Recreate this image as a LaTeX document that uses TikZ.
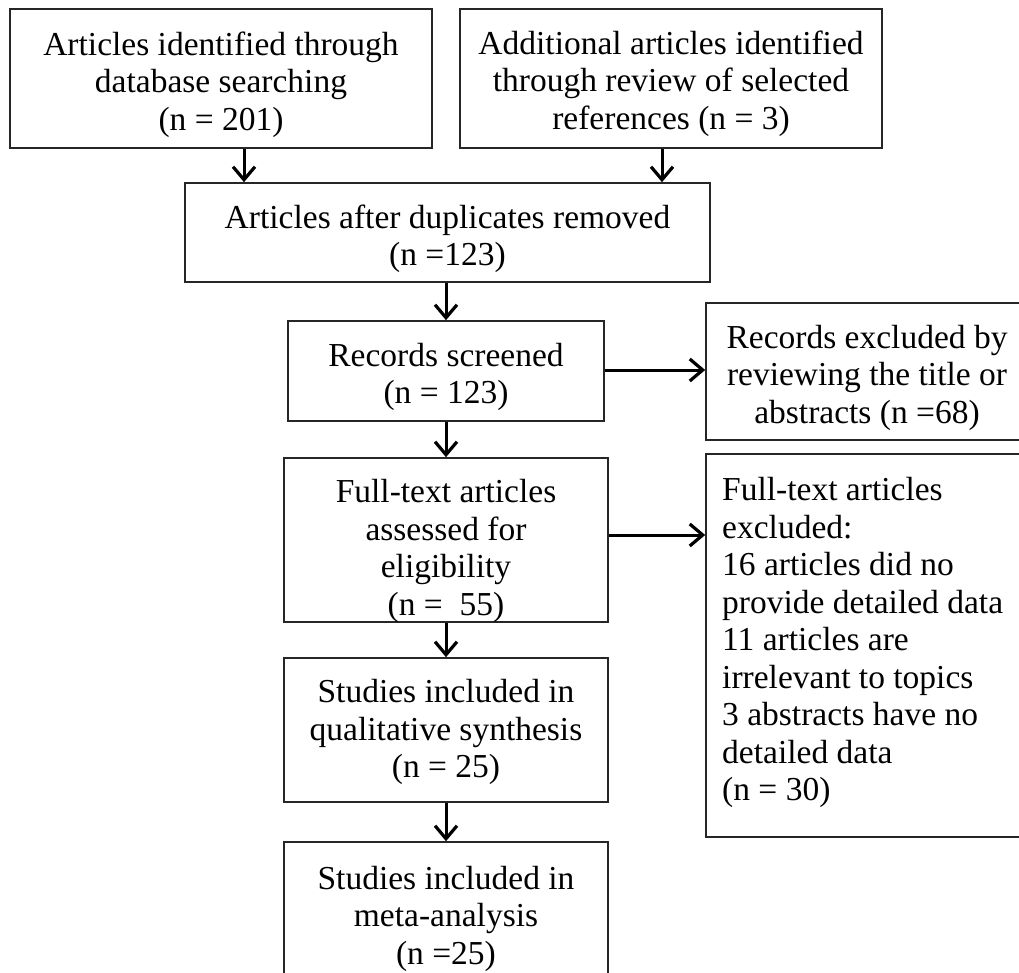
\documentclass[tikz,border=0pt]{standalone}
\usepackage{fontspec}
\setmainfont{Liberation Serif}
\usetikzlibrary{arrows.meta}
\begin{document}
\begin{tikzpicture}[x=1pt,y=-1pt,
  box/.style={draw=black!85, line width=1.6pt, inner sep=0pt},
  txt/.style={align=center, inner sep=0pt, font=\fontsize{33.5}{37.5}\selectfont},
  ltxt/.style={align=left, inner sep=0pt, font=\fontsize{33.5}{37.5}\selectfont},
  arr/.style={line width=3pt, -{Straight Barb[length=13pt,width=22pt,line width=3.2pt]}}]
\useasboundingbox (0,0) rectangle (1019,973);
\clip (0,0) rectangle (1019,973);
\fill[white] (0,0) rectangle (1019,973);
% boxes
\node[box, minimum width=422, minimum height=139] (b1) at (221,78.5) {};
\node[box, minimum width=422, minimum height=139] (b2) at (671,78.5) {};
\node[box, minimum width=525, minimum height=99] (b3) at (447.5,232.5) {};
\node[box, minimum width=316, minimum height=100] (b4) at (446,371) {};
\node[box, minimum width=324, minimum height=137] (b5) at (868,371.5) {};
\node[box, minimum width=324, minimum height=164] (b6) at (446,540) {};
\node[box, minimum width=324, minimum height=383] (b7) at (868,645.5) {};
\node[box, minimum width=324, minimum height=144] (b8) at (446,730) {};
\node[box, minimum width=324, minimum height=152] (b9) at (446,918) {};
% texts
\node[txt] (t1) at (221,84.5) {Articles identified through\\database searching\\(n = 201)};
\node[txt] (t2) at (671,83.5) {Additional articles identified\\through review of selected\\references (n = 3)};
\node[txt] (t3) at (447.5,239) {Articles after duplicates removed\\(n =123)};
\node[txt] (t4) at (446,377) {Records screened\\(n = 123)};
\node[txt] (t5) at (867,377.5) {Records excluded by\\reviewing the title or\\abstracts (n =68)};
\node[txt] (t6) at (446,551) {Full-text articles\\assessed for\\eligibility\\(n =~ 55)};
\node[ltxt, anchor=north west] (t7) at (722,477.3)
  {Full-text articles\\excluded:\\16 articles did no\\provide detailed data\\11 articles are\\irrelevant to topics\\3 abstracts have no\\detailed data\\(n = 30)};
\node[txt] (t8) at (446,732) {Studies included in\\qualitative synthesis\\(n = 25)};
\node[txt] (t9) at (446,918.5) {Studies included in\\meta-analysis\\(n =25)};
% connectors
\coordinate (a1) at (244,0);
\coordinate (a2) at (662,0);
\coordinate (c4) at (0,370);
\coordinate (c6) at (0,535);
\draw[arr] (b1.south -| a1) -- (b3.north -| a1);
\draw[arr] (b2.south -| a2) -- (b3.north -| a2);
\draw[arr] (b3.south -| b4.north) -- (b4.north);
\draw[arr] (b4.east |- c4) -- (b5.west |- c4);
\draw[arr] (b4.south) -- (b6.north);
\draw[arr] (b6.east |- c6) -- (b7.west |- c6);
\draw[arr] (b6.south) -- (b8.north);
\draw[arr] (b8.south) -- (b9.north);
\end{tikzpicture}
\end{document}
